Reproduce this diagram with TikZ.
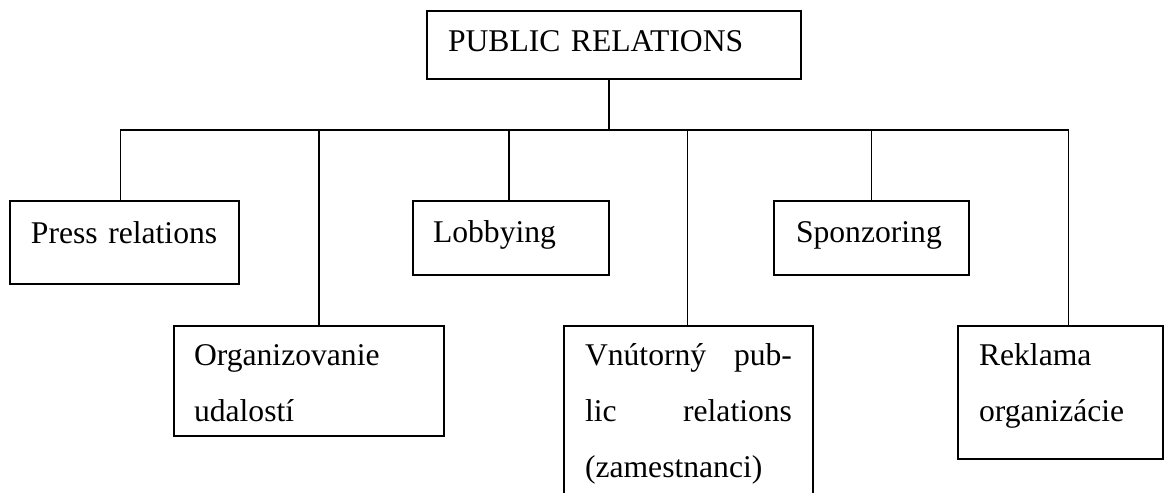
\documentclass[tikz,border=0pt]{standalone}
\usepackage{fontspec}
\setmainfont{Liberation Serif}
\usetikzlibrary{calc}
\newlength{\pxu}
\setlength{\pxu}{0.02cm}
\newcommand{\prfont}{\fontsize{18pt}{31.9pt}\selectfont}
\tikzset{
  prbox/.style={draw, line width=0.9pt, anchor=north west, inner ysep=0pt, outer sep=0pt, align=left, font=\prfont},
  prline/.style={line width=0.9pt}
}

\begin{document}
\begin{tikzpicture}[x=0.02cm, y=-0.02cm]
        \useasboundingbox (0,0) rectangle (1165,493);
        \clip (0,0) rectangle (1165,493);

        \node[prbox, text width=332\pxu, inner xsep=21\pxu, text height=41\pxu, text depth=27\pxu] (pr) at (427,11) {PUBLIC RELATIONS};

        \node[prbox, text width=187\pxu, inner xsep=21\pxu, text height=42\pxu, text depth=41\pxu] (press) at (10,201) {Press relations};
        \node[prbox, text width=156\pxu, inner xsep=20\pxu, text height=41\pxu, text depth=33\pxu] (lobby) at (413,201) {Lobbying};
        \node[prbox, text width=151\pxu, inner xsep=22\pxu, text height=41\pxu, text depth=33\pxu] (sponz) at (774,201) {Sponzoring};
        \node[prbox, text width=230\pxu, inner xsep=20\pxu, text height=39\pxu, text depth=71\pxu] (event) at (174,326) {Organizovanie\\udalostí};
        \node[prbox, align=justify, text width=207\pxu, inner xsep=21\pxu, text height=39\pxu, text depth=160\pxu] (intern) at (564,326) {Vnútorný pub-\linebreak lic relations\linebreak (zamestnanci)};
        \node[prbox, text width=163\pxu, inner xsep=21\pxu, text height=39\pxu, text depth=94\pxu] (adv) at (958,326) {Reklama\\organizácie};

        \coordinate (bus) at (609,130);
        \coordinate (pr-tap) at ($(pr.south)+(-5,0)$);
        \draw[prline] (pr-tap) -- (pr-tap |- bus);
        \foreach \n/\dx in {press/-4, event/10, lobby/-2, intern/-1, sponz/0, adv/8}
        {
            \coordinate (\n-tap) at ($(\n.north)+(\dx,0)$);
            \draw[prline] (\n-tap) -- (\n-tap |- bus);
        }
        \draw[prline] (press-tap) |- (bus) -| (adv-tap);
\end{tikzpicture}
\end{document}
